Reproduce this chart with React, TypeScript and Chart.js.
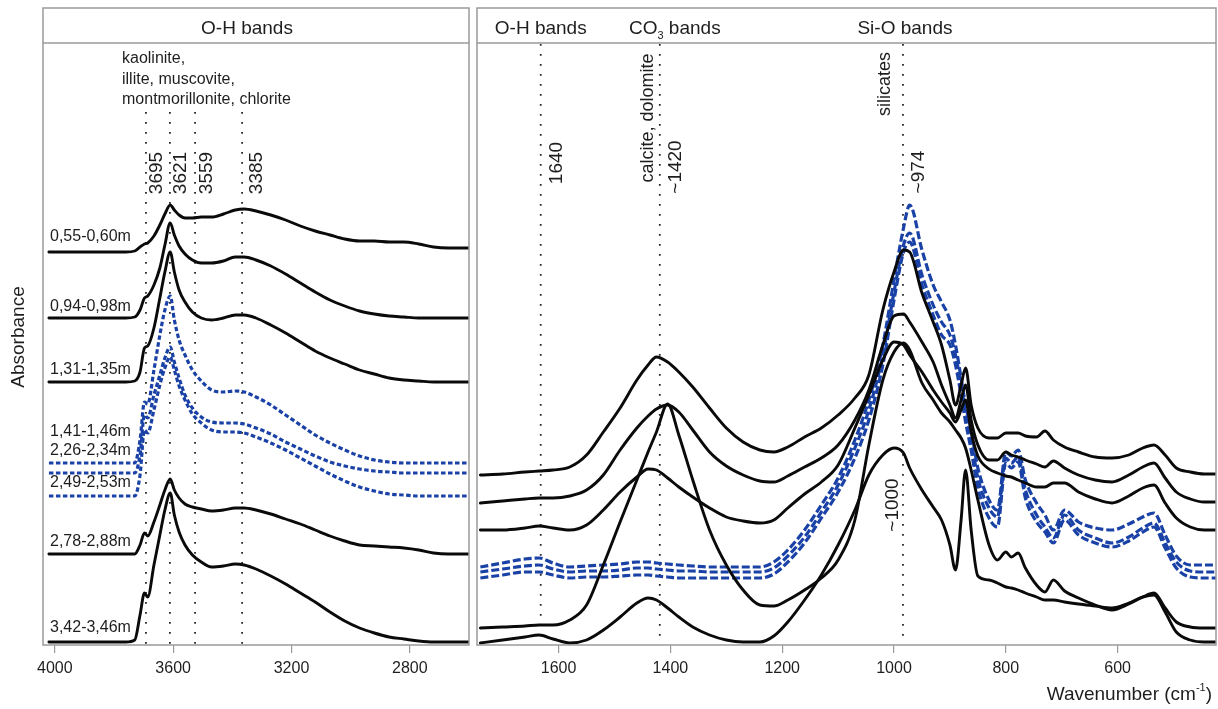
import { useEffect, useRef } from 'react';
import { Chart, registerables } from 'chart.js';

Chart.register(...registerables);

const FONT = "'Liberation Sans', Arial, Helvetica, sans-serif";
const BLACK = '#0a0a0a';
const BLUE = '#1a42a6';
const FRAME = '#9a9a9a';
const TEXT = '#1e1e1e';

// ---------- Left panel (O-H region) ----------
const LEFT_WN = [4020, 3900, 3760, 3730, 3712, 3697, 3686, 3665, 3645, 3628, 3610, 3596, 3580, 3560, 3535, 3505, 3470, 3430, 3390, 3360, 3320, 3270, 3220, 3170, 3120, 3070, 3020, 2970, 2920, 2870, 2820, 2770, 2720, 2670, 2630, 2600];
const L_055_060 = [393, 393, 393, 394, 398, 401, 402, 409, 420, 431, 440, 435, 430, 427, 427, 428, 428, 431, 435, 436, 434, 430, 425, 419, 414, 410, 406, 404, 404, 403, 403, 401, 398, 397, 397, 397];
const L_094_098 = [327, 327, 327, 328, 335, 347, 349, 360, 377, 400, 422, 410, 399, 391, 385, 382, 382, 384, 388, 388, 385, 379, 371, 362, 353, 345, 339, 334, 331, 329, 328, 327, 327, 327, 327, 327];
const L_131_135 = [263, 263, 263, 264, 273, 297, 299, 317, 347, 373, 393, 373, 355, 343, 333, 327, 325, 327, 330, 330, 327, 320, 312, 303, 294, 287, 281, 275, 271, 267, 265, 264, 263, 263, 263, 263];
const L_141_146 = [182, 182, 182, 182, 205, 243, 241, 275, 310, 335, 349, 325, 305, 290, 275, 264, 255, 253, 254, 253, 248, 240, 230, 220, 210, 202, 195, 189, 185, 183, 182, 182, 182, 182, 182, 182];
const L_226_234 = [172, 172, 172, 172, 190, 230, 227, 250, 270, 287, 298, 283, 267, 250, 237, 228, 223, 222, 222, 221, 217, 211, 203, 196, 189, 183, 179, 176, 174, 173, 172, 172, 172, 172, 172, 172];
const L_249_253 = [149, 149, 149, 149, 170, 215, 212, 235, 260, 277, 288, 275, 259, 245, 231, 222, 215, 213, 213, 212, 208, 202, 195, 187, 179, 171, 164, 158, 154, 151, 150, 149, 149, 149, 149, 149];
const L_278_288 = [91, 91, 91, 91, 100, 112, 109, 123, 140, 155, 166, 155, 147, 141, 138, 136, 134, 135, 137, 137, 135, 131, 126, 121, 115, 109, 104, 100, 99, 98, 97, 95, 92, 91, 91, 91];
const L_342_346 = [3, 3, 3, 5, 30, 52, 48, 80, 110, 135, 152, 130, 113, 100, 90, 83, 78, 79, 81, 80, 76, 69, 61, 52, 43, 33, 24, 17, 12, 8, 6, 4, 3, 3, 3, 3];

const LEFT_TICKS = [4000, 3600, 3200, 2800];
const SAMPLE_LABELS = ['0,55-0,60m', '0,94-0,98m', '1,31-1,35m', '1,41-1,46m', '2,26-2,34m', '2,49-2,53m', '2,78-2,88m', '3,42-3,46m'];
const SAMPLE_LABEL_LEVELS = [408, 338, 275, 213, 194, 162, 103, 17];
const LEFT_BAND_POS = [3692, 3611, 3526, 3367];
const LEFT_BAND_TEXT = ['3695', '3621', '3559', '3385'];
const LEFT_BAND_DX = [11, 11, 12, 15];
const LEFT_MINERALS = ['kaolinite,', 'illite, muscovite,', 'montmorillonite, chlorite'];

// ---------- Right panel (fingerprint region) ----------
const RIGHT_WN = [1740, 1700, 1660, 1635, 1610, 1580, 1550, 1520, 1490, 1460, 1440, 1425, 1405, 1385, 1360, 1330, 1300, 1270, 1240, 1215, 1190, 1160, 1130, 1100, 1070, 1045, 1020, 1000, 983, 972, 950, 930, 915, 900, 890, 880, 872, 862, 850, 830, 815, 800, 790, 778, 765, 745, 730, 715, 695, 670, 640, 610, 580, 555, 535, 515, 495, 470, 445, 424];
const R_BLACK_1 = [170, 171, 173, 174, 175, 178, 190, 213, 237, 265, 280, 288, 283, 273, 258, 237, 217, 203, 195, 193, 198, 208, 217, 230, 247, 270, 335, 373, 395, 393, 352, 323, 300, 265, 240, 260, 277, 240, 217, 207, 207, 212, 212, 212, 209, 208, 214, 205, 198, 193, 188, 187, 190, 197, 200, 190, 177, 173, 171, 171];
const R_BLACK_2 = [142, 144, 146, 147, 147, 149, 155, 170, 195, 217, 229, 236, 240, 233, 215, 193, 179, 170, 164, 163, 169, 178, 187, 200, 225, 255, 300, 329, 331, 323, 303, 283, 260, 240, 227, 245, 260, 225, 200, 185, 185, 193, 190, 188, 185, 181, 178, 184, 177, 170, 165, 163, 170, 178, 182, 167, 153, 146, 143, 143];
const R_BLACK_3 = [115, 115, 117, 119, 117, 115, 120, 135, 153, 168, 176, 175, 167, 158, 148, 137, 128, 124, 122, 125, 137, 151, 163, 180, 217, 250, 285, 303, 300, 290, 273, 255, 243, 232, 223, 235, 245, 213, 189, 176, 172, 169, 168, 165, 162, 158, 158, 162, 162, 153, 146, 142, 149, 157, 160, 142, 127, 118, 115, 115];
const R_BLACK_4 = [17, 18, 19, 20, 20, 25, 40, 80, 123, 165, 193, 213, 241, 210, 165, 115, 80, 55, 40, 39, 45, 55, 67, 85, 125, 200, 265, 293, 302, 295, 262, 245, 232, 223, 215, 207, 197, 175, 145, 100, 85, 93, 88, 92, 77, 60, 53, 65, 54, 47, 40, 35, 41, 48, 52, 37, 23, 18, 17, 17];
const R_BLACK_5 = [2, 5, 8, 10, 6, 2, 5, 15, 28, 42, 47, 45, 37, 28, 18, 10, 5, 3, 3, 9, 23, 45, 70, 100, 135, 170, 190, 197, 192, 177, 155, 138, 125, 100, 75, 125, 175, 115, 69, 65, 62, 58, 57, 55, 52, 48, 45, 45, 43, 41, 39, 37, 42, 48, 50, 33, 13, 5, 3, 3];
const R_BLUE_1 = [78, 82, 86, 87, 82, 78, 79, 80, 81, 83, 83, 82, 81, 80, 79, 78, 78, 78, 78, 83, 95, 115, 140, 167, 205, 245, 300, 365, 417, 440, 395, 360, 343, 325, 300, 267, 240, 215, 177, 145, 135, 193, 189, 195, 165, 142, 130, 115, 135, 123, 117, 115, 121, 128, 132, 110, 89, 80, 80, 80];
const R_BLUE_2 = [73, 76, 79, 80, 76, 73, 74, 74, 75, 77, 77, 76, 75, 74, 74, 73, 73, 73, 73, 77, 89, 108, 133, 160, 197, 235, 290, 353, 400, 412, 370, 340, 323, 310, 290, 260, 233, 205, 167, 137, 128, 187, 182, 188, 155, 130, 118, 107, 130, 115, 107, 102, 108, 117, 122, 102, 83, 74, 73, 73];
const R_BLUE_3 = [67, 70, 73, 73, 70, 67, 68, 68, 69, 70, 70, 69, 68, 67, 67, 67, 67, 67, 67, 71, 83, 102, 127, 153, 187, 225, 280, 345, 393, 403, 360, 330, 310, 300, 280, 250, 223, 195, 157, 127, 118, 182, 177, 183, 147, 123, 113, 102, 125, 110, 102, 98, 104, 113, 118, 97, 77, 68, 67, 67];

const RIGHT_TICKS = [1600, 1400, 1200, 1000, 800, 600];
const RIGHT_BAND_POS = [1632, 1419, 984];
const RIGHT_BAND_BOTTOM = [28, 8, 8];
const RIGHT_HEADERS = ['O-H bands', 'CO3 bands', 'Si-O bands'];
const RIGHT_HEADER_DX = [0, 15, 2];
const RIGHT_ROT_TEXT = ['1640', 'calcite, dolomite', '~1420', 'silicates', '~974', '~1000'];
const RIGHT_ROT_BAND = [0, 1, 1, 2, 2, 2];
const RIGHT_ROT_DX = [16, -12, 16, -18, 16, -10];
const RIGHT_ROT_Y = [163, 118, 167, 84, 172, 505];
const RIGHT_ROT_SIZE = [19, 18, 19, 18, 19, 19];

const Y_MAX = 602;
const RIGHT_CANVAS_LEFT = 473;

function series(wn: number[], vals: number[], color: string, dash: number[] | null, width: number) {
  return {
    data: wn.map((x, i) => ({ x, y: vals[i] })),
    borderColor: color,
    borderWidth: width,
    borderDash: dash || [],
    borderJoinStyle: 'round',
    borderCapStyle: dash ? 'butt' : 'round',
    pointRadius: 0,
    fill: false,
    cubicInterpolationMode: 'monotone',
  };
}

function dottedLine(ctx: CanvasRenderingContext2D, x: number, y1: number, y2: number) {
  ctx.save();
  ctx.strokeStyle = '#2a2a2a';
  ctx.lineWidth = 1.8;
  ctx.setLineDash([1.8, 8.2]);
  ctx.beginPath();
  ctx.moveTo(x, y1);
  ctx.lineTo(x, y2);
  ctx.stroke();
  ctx.restore();
}

function rotText(ctx: CanvasRenderingContext2D, text: string, x: number, y: number, size: number) {
  ctx.save();
  ctx.translate(x, y);
  ctx.rotate(-Math.PI / 2);
  ctx.font = `${size}px ${FONT}`;
  ctx.fillStyle = TEXT;
  ctx.textAlign = 'center';
  ctx.textBaseline = 'middle';
  ctx.fillText(text, 0, 0);
  ctx.restore();
}

function frame(ctx: CanvasRenderingContext2D, ca: any) {
  ctx.save();
  ctx.strokeStyle = FRAME;
  ctx.lineWidth = 1.5;
  ctx.setLineDash([]);
  ctx.strokeRect(ca.left, 8, ca.right - ca.left, ca.bottom - 8);
  ctx.beginPath();
  ctx.moveTo(ca.left, 43);
  ctx.lineTo(ca.right, 43);
  ctx.stroke();
  ctx.restore();
}

const baseX = (min: number, max: number, ticks: number[]) => ({
  type: 'linear',
  reverse: true,
  min,
  max,
  afterBuildTicks: (s: any) => {
    s.ticks = ticks.map((v) => ({ value: v }));
  },
  afterFit: (s: any) => {
    s.height = 64;
  },
  grid: { drawOnChartArea: false, drawTicks: true, tickLength: 8, color: FRAME, lineWidth: 1.2 },
  border: { display: false },
  ticks: {
    font: { family: FONT, size: 16 },
    color: TEXT,
    padding: 6,
    maxRotation: 0,
    autoSkip: false,
    callback: (v: any) => String(v),
  },
});

const leftDecor = {
  id: 'leftDecor',
  beforeDatasetsDraw(chart: any) {
    const { ctx, scales } = chart;
    LEFT_BAND_POS.forEach((wn) => {
      const x = scales.x.getPixelForValue(wn);
      dottedLine(ctx, x, 112, chart.chartArea.bottom);
    });
  },
  afterDraw(chart: any) {
    const { ctx, scales, chartArea: ca } = chart;
    frame(ctx, ca);
    ctx.save();
    ctx.fillStyle = TEXT;
    ctx.font = `19px ${FONT}`;
    ctx.textAlign = 'center';
    ctx.textBaseline = 'middle';
    ctx.fillText('O-H bands', 247, 29);
    ctx.font = `16px ${FONT}`;
    ctx.textAlign = 'left';
    LEFT_MINERALS.forEach((t, i) => ctx.fillText(t, 122, 59 + i * 20.5));
    SAMPLE_LABELS.forEach((t, i) => {
      ctx.fillText(t, ca.left + 7, scales.y.getPixelForValue(SAMPLE_LABEL_LEVELS[i]));
    });
    ctx.restore();
    LEFT_BAND_POS.forEach((wn, i) => {
      rotText(ctx, LEFT_BAND_TEXT[i], scales.x.getPixelForValue(wn) + LEFT_BAND_DX[i], 173, 19);
    });
    rotText(ctx, 'Absorbance', 19, 337, 19);
  },
};

const rightDecor = {
  id: 'rightDecor',
  beforeDatasetsDraw(chart: any) {
    const { ctx, scales } = chart;
    RIGHT_BAND_POS.forEach((wn, i) => {
      dottedLine(ctx, scales.x.getPixelForValue(wn), 44, scales.y.getPixelForValue(RIGHT_BAND_BOTTOM[i]));
    });
  },
  afterDraw(chart: any) {
    const { ctx, scales, chartArea: ca } = chart;
    frame(ctx, ca);
    ctx.save();
    ctx.fillStyle = TEXT;
    ctx.textBaseline = 'middle';
    RIGHT_HEADERS.forEach((h, i) => {
      const cx = scales.x.getPixelForValue(RIGHT_BAND_POS[i]) + RIGHT_HEADER_DX[i];
      if (h.startsWith('CO3')) {
        ctx.font = `19px ${FONT}`;
        const w1 = ctx.measureText('CO').width;
        const w3 = ctx.measureText(' bands').width;
        ctx.font = `11px ${FONT}`;
        const w2 = ctx.measureText('3').width;
        let x = cx - (w1 + w2 + w3) / 2;
        ctx.textAlign = 'left';
        ctx.font = `19px ${FONT}`;
        ctx.fillText('CO', x, 29);
        x += w1;
        ctx.font = `11px ${FONT}`;
        ctx.fillText('3', x, 36);
        x += w2;
        ctx.font = `19px ${FONT}`;
        ctx.fillText(' bands', x, 29);
      } else {
        ctx.font = `19px ${FONT}`;
        ctx.textAlign = 'center';
        ctx.fillText(h, cx, 29);
      }
    });
    const right = 1212 - RIGHT_CANVAS_LEFT;
    ctx.font = `19px ${FONT}`;
    const a = 'Wavenumber (cm';
    const wa = ctx.measureText(a).width;
    const wc = ctx.measureText(')').width;
    ctx.font = `11px ${FONT}`;
    const wb = ctx.measureText('-1').width;
    let x = right - wa - wb - wc;
    ctx.textAlign = 'left';
    ctx.font = `19px ${FONT}`;
    ctx.fillText(a, x, 695);
    x += wa;
    ctx.font = `11px ${FONT}`;
    ctx.fillText('-1', x, 688);
    x += wb;
    ctx.font = `19px ${FONT}`;
    ctx.fillText(')', x, 695);
    ctx.restore();
    RIGHT_ROT_TEXT.forEach((t, i) => {
      const x0 = scales.x.getPixelForValue(RIGHT_BAND_POS[RIGHT_ROT_BAND[i]]) + RIGHT_ROT_DX[i];
      rotText(ctx, t, x0, RIGHT_ROT_Y[i], RIGHT_ROT_SIZE[i]);
    });
  },
};

export default function App() {
  const leftRef = useRef<HTMLCanvasElement | null>(null);
  const rightRef = useRef<HTMLCanvasElement | null>(null);

  useEffect(() => {
    const left = new Chart(leftRef.current as HTMLCanvasElement, {
      type: 'line',
      data: {
        datasets: [
          series(LEFT_WN, L_055_060, BLACK, null, 2.9),
          series(LEFT_WN, L_094_098, BLACK, null, 2.9),
          series(LEFT_WN, L_131_135, BLACK, null, 2.9),
          series(LEFT_WN, L_278_288, BLACK, null, 2.9),
          series(LEFT_WN, L_342_346, BLACK, null, 2.9),
          series(LEFT_WN, L_141_146, BLUE, [4.5, 2.5], 3.2),
          series(LEFT_WN, L_226_234, BLUE, [4.5, 2.5], 3.2),
          series(LEFT_WN, L_249_253, BLUE, [4.5, 2.5], 3.2),
        ] as any,
      },
      options: {
        responsive: false,
        animation: false,
        layout: { padding: { left: 43, right: 4, top: 43, bottom: 0 } },
        plugins: { legend: { display: false }, tooltip: { enabled: false } },
        scales: {
          x: baseX(2600, 4040, LEFT_TICKS) as any,
          y: { display: false, min: 0, max: Y_MAX },
        },
      },
      plugins: [leftDecor],
    });

    const right = new Chart(rightRef.current as HTMLCanvasElement, {
      type: 'line',
      data: {
        datasets: [
          series(RIGHT_WN, R_BLACK_1, BLACK, null, 2.9),
          series(RIGHT_WN, R_BLACK_2, BLACK, null, 2.9),
          series(RIGHT_WN, R_BLACK_3, BLACK, null, 2.9),
          series(RIGHT_WN, R_BLACK_4, BLACK, null, 2.9),
          series(RIGHT_WN, R_BLACK_5, BLACK, null, 2.9),
          series(RIGHT_WN, R_BLUE_1, BLUE, [8, 3], 3.2),
          series(RIGHT_WN, R_BLUE_2, BLUE, [8, 3], 3.2),
          series(RIGHT_WN, R_BLUE_3, BLUE, [8, 3], 3.2),
        ] as any,
      },
      options: {
        responsive: false,
        animation: false,
        layout: { padding: { left: 4, right: 2, top: 43, bottom: 0 } },
        plugins: { legend: { display: false }, tooltip: { enabled: false } },
        scales: {
          x: baseX(424, 1746, RIGHT_TICKS) as any,
          y: { display: false, min: 0, max: Y_MAX },
        },
      },
      plugins: [rightDecor],
    });

    return () => {
      left.destroy();
      right.destroy();
    };
  }, []);

  return (
    <div style={{ position: 'absolute', left: 0, top: 0, width: 1218, height: 709, background: '#fff' }}>
      <canvas ref={leftRef} width={473} height={709} style={{ position: 'absolute', left: 0, top: 0 }} />
      <canvas
        ref={rightRef}
        width={745}
        height={709}
        style={{ position: 'absolute', left: RIGHT_CANVAS_LEFT, top: 0 }}
      />
    </div>
  );
}
